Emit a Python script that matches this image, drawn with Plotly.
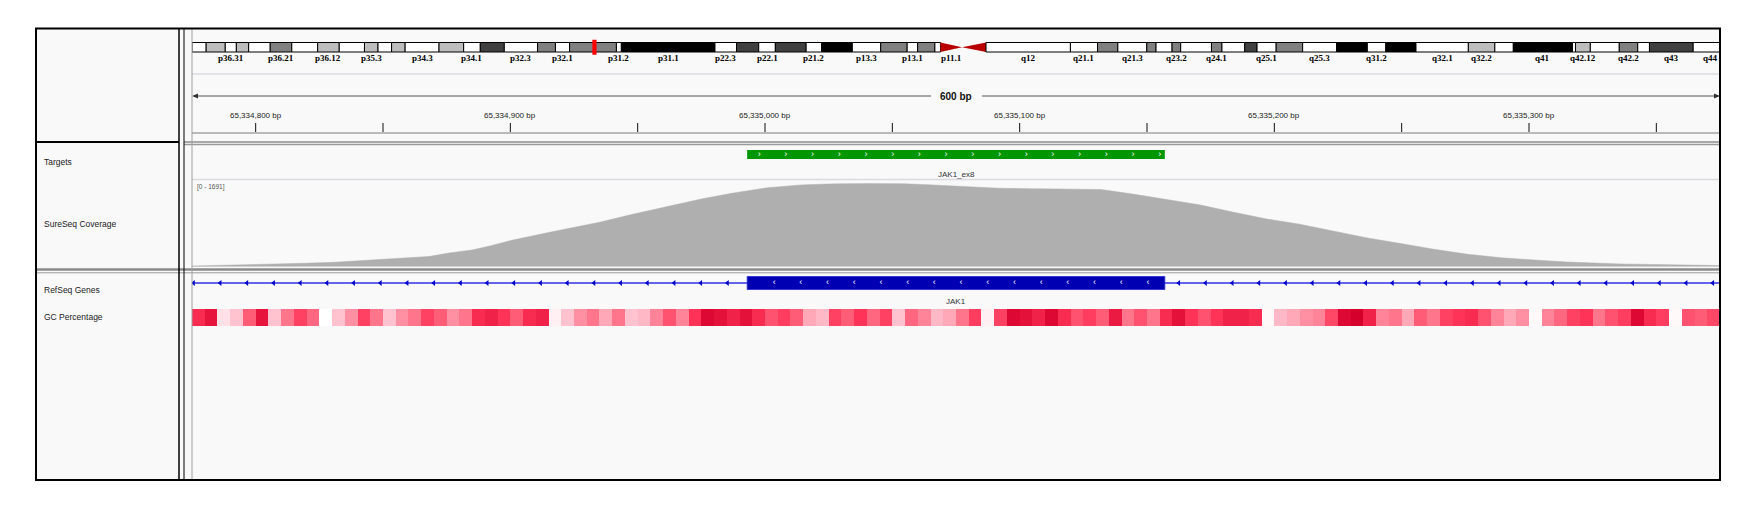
import numpy as np
import plotly.graph_objects as go

# ---------------- data ----------------
CHROM_LEN_MB = 249.25
VIEW_START = 65334775
VIEW_END = 65335375
VIEW_LABEL = "600 bp"

RULER_TICKS = [65334800, 65334850, 65334900, 65334950, 65335000, 65335050,
               65335100, 65335150, 65335200, 65335250, 65335300, 65335350]
RULER_LABELED = [65334800, 65334900, 65335000, 65335100, 65335200, 65335300]
RULER_LABELS = ["65,334,800 bp", "65,334,900 bp", "65,335,000 bp",
                "65,335,100 bp", "65,335,200 bp", "65,335,300 bp"]

BAND_NAMES = ["p36.33", "p36.32", "p36.31", "p36.23", "p36.22", "p36.21", "p36.13", "p36.12",
              "p36.11", "p35.3", "p35.2", "p35.1", "p34.3", "p34.2", "p34.1", "p33", "p32.3",
              "p32.2", "p32.1", "p31.3", "p31.2", "p31.1", "p22.3", "p22.2", "p22.1", "p21.3",
              "p21.2", "p21.1", "p13.3", "p13.2", "p13.1", "p12", "p11.2", "p11.1", "q11", "q12",
              "q21.1", "q21.2", "q21.3", "q22", "q23.1", "q23.2", "q23.3", "q24.1", "q24.2",
              "q24.3", "q25.1", "q25.2", "q25.3", "q31.1", "q31.2", "q31.3", "q32.1", "q32.2",
              "q32.3", "q41", "q42.11", "q42.12", "q42.13", "q42.2", "q42.3", "q43", "q44"]
BAND_START = [0.0, 2.3, 5.4, 7.2, 9.2, 12.7, 16.2, 20.4, 23.9, 28.0, 30.2, 32.4, 34.6, 40.1,
              44.1, 46.8, 50.7, 56.1, 59.0, 61.3, 68.9, 69.7, 84.9, 88.4, 92.0, 94.7, 99.7,
              102.2, 107.2, 111.8, 116.1, 117.8, 120.6, 121.5, 125.0, 128.9, 142.6, 147.0,
              150.3, 155.0, 156.5, 159.1, 160.5, 165.5, 167.2, 170.9, 172.9, 176.0, 180.3,
              185.8, 190.8, 193.8, 198.7, 207.2, 211.5, 214.5, 224.1, 224.6, 227.0, 231.7,
              234.7, 236.6, 243.7]
BAND_END = BAND_START[1:] + [CHROM_LEN_MB]
BAND_STAIN = ["gneg", "gpos25", "gneg", "gpos25", "gneg", "gpos50", "gneg", "gpos25", "gneg",
              "gpos25", "gneg", "gpos25", "gneg", "gpos25", "gneg", "gpos75", "gneg", "gpos50",
              "gneg", "gpos50", "gneg", "gpos100", "gneg", "gpos75", "gneg", "gpos75", "gneg",
              "gpos100", "gneg", "gpos50", "gneg", "gpos50", "gneg", "acen", "acen", "gvar",
              "gneg", "gpos50", "gneg", "gpos50", "gneg", "gpos50", "gneg", "gpos50", "gneg",
              "gpos75", "gneg", "gpos50", "gneg", "gpos100", "gneg", "gpos100", "gneg",
              "gpos25", "gneg", "gpos100", "gneg", "gpos25", "gneg", "gpos50", "gneg",
              "gpos75", "gneg"]
LABELED_BANDS = ["p36.31", "p36.21", "p36.12", "p35.3", "p34.3", "p34.1", "p32.3", "p32.1",
                 "p31.2", "p31.1", "p22.3", "p22.1", "p21.2", "p13.3", "p13.1", "p11.1", "q12",
                 "q21.1", "q21.3", "q23.2", "q24.1", "q25.1", "q25.3", "q31.2", "q32.1",
                 "q32.2", "q41", "q42.12", "q42.2", "q43", "q44"]

TRACK_NAMES = ["Targets", "SureSeq Coverage", "RefSeq Genes", "GC Percentage"]

TARGET_NAME = "JAK1_ex8"
TARGET_START = 65334993
TARGET_END = 65335157

GENE_NAME = "JAK1"
EXON_START = 65334993
EXON_END = 65335157

COV_MAX = 1691
COV_POS = [65334775, 65334792, 65334809, 65334819, 65334831, 65334839, 65334855, 65334868,
           65334876, 65334885, 65334892, 65334901, 65334916, 65334935, 65334948, 65334962,
           65334975, 65334987, 65335001, 65335014, 65335027, 65335040, 65335053, 65335066,
           65335079, 65335092, 65335105, 65335119, 65335132, 65335145, 65335158, 65335171,
           65335184, 65335197, 65335210, 65335223, 65335236, 65335249, 65335262, 65335276,
           65335289, 65335302, 65335315, 65335336, 65335355, 65335375]
COV_VAL = [14, 30, 55, 69, 89, 116, 156, 207, 278, 339, 420, 541, 704, 900, 1062, 1217,
           1373, 1488, 1602, 1657, 1683, 1691, 1689, 1657, 1622, 1590, 1582, 1575, 1565,
           1468, 1352, 1251, 1103, 967, 860, 724, 588, 474, 359, 251, 182, 136, 95, 55, 34, 24]

GC_BIN = 5
GC_PCT = [70, 75, 30, 40, 60, 75, 40, 55, 65, 58,
          20, 40, 50, 65, 55, 40, 50, 55, 65, 60,
          50, 55, 70, 72, 68, 60, 70, 72, 25, 40,
          50, 55, 45, 55, 40, 42, 52, 62, 52, 68,
          78, 76, 72, 76, 70, 62, 66, 60, 45, 42,
          65, 60, 68, 58, 65, 40, 58, 52, 42, 45,
          55, 66, 25, 65, 78, 76, 72, 78, 70, 62,
          66, 60, 74, 55, 62, 55, 70, 76, 68, 62,
          68, 72, 72, 70, 22, 42, 45, 50, 52, 64,
          78, 80, 72, 52, 55, 45, 60, 55, 65, 68,
          70, 62, 52, 45, 50, 22, 52, 58, 65, 68,
          55, 62, 66, 78, 70, 66, 22, 62, 60, 64]

# ---------------- layout constants (pixels of the browser window) ----------------
WIN_W, WIN_H = 1755, 516
PAGE_MARGIN = 8                      # default body margin of the html page
W, H = WIN_W - PAGE_MARGIN, WIN_H - PAGE_MARGIN
DX0, DX1 = 192, 1720
IDEO_PX_PER_MB = 6.16
STAIN_COLORS = {"gneg": "#ffffff", "gpos25": "#bdbdbd", "gpos50": "#808080",
                "gpos75": "#404040", "gpos100": "#000000", "gvar": "#ffffff"}
ACEN_COLOR = "#b80000"
SANS = "Liberation Sans, Arial, sans-serif"


def fx(p):
    return (p - PAGE_MARGIN) / W


def fy(p):
    return 1 - (p - PAGE_MARGIN) / H


shapes = []
annotations = []


def line_px(x0, y0, x1, y1, color, width):
    shapes.append(dict(type="line", xref="paper", yref="paper", x0=fx(x0), y0=fy(y0),
                       x1=fx(x1), y1=fy(y1), line=dict(color=color, width=width)))


# background
shapes.append(dict(type="rect", xref="paper", yref="paper", x0=fx(36), x1=fx(1720),
                   y0=fy(480), y1=fy(28), fillcolor="#f9f9f9", line=dict(width=0),
                   layer="below"))

# ---------------- ideogram ----------------
IDEO_TOP, IDEO_BOT = 42.5, 52.0
for name, s, e, st in zip(BAND_NAMES, BAND_START, BAND_END, BAND_STAIN):
    if st == "acen":
        yt, yb, ym = fy(IDEO_TOP), fy(IDEO_BOT), fy((IDEO_TOP + IDEO_BOT) / 2)
        if name.startswith("p"):
            path = f"M {s},{yt} L {s},{yb} L {e},{ym} Z"
        else:
            path = f"M {e},{yt} L {e},{yb} L {s},{ym} Z"
        shapes.append(dict(type="path", xref="x2", yref="paper", path=path,
                           fillcolor=ACEN_COLOR, line=dict(width=0)))
    else:
        shapes.append(dict(type="rect", xref="x2", yref="paper", x0=s, x1=e,
                           y0=fy(IDEO_BOT), y1=fy(IDEO_TOP), fillcolor=STAIN_COLORS[st],
                           line=dict(color="#000000", width=1)))
    if name in LABELED_BANDS:
        annotations.append(dict(xref="x2", yref="paper", x=(s + e) / 2, y=fy(57.5),
                                text=f"<b>{name}</b>", showarrow=False,
                                font=dict(family="Liberation Serif, serif", size=9,
                                          color="#000000"),
                                xanchor="center", yanchor="middle"))

# current view marker on ideogram
view_mb = (VIEW_START + VIEW_END) / 2 / 1e6
shapes.append(dict(type="rect", xref="x2", yref="paper", x0=view_mb - 0.22, x1=view_mb + 0.22,
                   y0=fy(54), y1=fy(40.5), fillcolor="#ff0000",
                   line=dict(color="#ff0000", width=1.5)))

line_px(DX0, 74, DX1, 74, "#dadae0", 1.5)

# ---------------- ruler ----------------
px_per_bp = (DX1 - DX0) / (VIEW_END - VIEW_START)
cx = DX0 + ((VIEW_START + VIEW_END) / 2 - VIEW_START) * px_per_bp
RULER_Y = 96
line_px(DX0 + 2, RULER_Y, cx - 25, RULER_Y, "#555555", 1)
line_px(cx + 26, RULER_Y, DX1 - 2, RULER_Y, "#555555", 1)
for tip, back in ((DX0, DX0 + 6), (DX1, DX1 - 6)):
    shapes.append(dict(type="path", xref="paper", yref="paper",
                       path=f"M {fx(tip)},{fy(RULER_Y)} L {fx(back)},{fy(RULER_Y - 2.6)} "
                            f"L {fx(back)},{fy(RULER_Y + 2.6)} Z",
                       fillcolor="#333333", line=dict(width=0)))
annotations.append(dict(xref="paper", yref="paper", x=fx(cx), y=fy(RULER_Y),
                        text=f"<b>{VIEW_LABEL}</b>", showarrow=False,
                        font=dict(family=SANS, size=10, color="#111111"),
                        xanchor="center", yanchor="middle"))
for t in RULER_TICKS:
    shapes.append(dict(type="line", xref="x", yref="paper", x0=t, x1=t, y0=fy(132),
                       y1=fy(123), line=dict(color="#111111", width=1)))
for t, lab in zip(RULER_LABELED, RULER_LABELS):
    annotations.append(dict(xref="x", yref="paper", x=t, y=fy(115.5), text=lab,
                            showarrow=False, font=dict(family=SANS, size=8, color="#222222"),
                            xanchor="center", yanchor="middle"))
line_px(DX0, 133, DX1, 133, "#7a7a7a", 1)

# panel separators
line_px(36, 142, 179, 142, "#000000", 2)
line_px(184, 142, DX1, 142, "#8c8c8c", 1.3)
line_px(184, 144.5, DX1, 144.5, "#9a9a9a", 1.3)
line_px(DX0, 179.5, DX1, 179.5, "#dadae0", 1.5)
line_px(36, 269.5, DX1, 269.5, "#8a8a8a", 2.5)
line_px(36, 272.8, DX1, 272.8, "#9a9a9a", 1)

# ---------------- targets ----------------
shapes.append(dict(type="rect", xref="x", yref="paper", x0=TARGET_START, x1=TARGET_END,
                   y0=fy(159), y1=fy(150), fillcolor="#009600", line=dict(width=0),
                   layer="below"))
annotations.append(dict(xref="x", yref="paper", x=(TARGET_START + TARGET_END) / 2, y=fy(174),
                        text=TARGET_NAME, showarrow=False,
                        font=dict(family=SANS, size=8, color="#333333"),
                        xanchor="center", yanchor="middle"))

# ---------------- genes ----------------
shapes.append(dict(type="line", xref="x", yref="paper", x0=VIEW_START, x1=VIEW_END,
                   y0=fy(283), y1=fy(283), line=dict(color="#3030e8", width=1.6),
                   layer="below"))
shapes.append(dict(type="rect", xref="x", yref="paper", x0=EXON_START, x1=EXON_END,
                   y0=fy(289.5), y1=fy(276.5), fillcolor="#0000b2",
                   line=dict(color="#2a2ad0", width=0.8), layer="below"))
annotations.append(dict(xref="x", yref="paper", x=(EXON_START + EXON_END) / 2, y=fy(301),
                        text=GENE_NAME, showarrow=False,
                        font=dict(family=SANS, size=8, color="#333333"),
                        xanchor="center", yanchor="middle"))

# strand arrows (spacing in pixels converted to bp)
step_bp = 26.7 / px_per_bp
tgt_arrows = np.arange(TARGET_START + 12 / px_per_bp, TARGET_END - 2 / px_per_bp, step_bp)
exon_arrows = np.arange(EXON_START + 27 / px_per_bp, EXON_END - 8 / px_per_bp, step_bp)
intron_arrows = np.concatenate([
    np.arange(VIEW_START + 1.5 / px_per_bp, EXON_START - 10 / px_per_bp, step_bp),
    np.arange(EXON_END + 14 / px_per_bp, VIEW_END, step_bp)])

# ---------------- labels in name panel ----------------
for name, yy in zip(TRACK_NAMES, [162, 224, 290, 317]):
    annotations.append(dict(xref="paper", yref="paper", x=fx(42), y=fy(yy), text=name,
                            showarrow=False, font=dict(family=SANS, size=8.5, color="#1a1a1a"),
                            xanchor="left", yanchor="middle"))
annotations.append(dict(xref="paper", yref="paper", x=fx(195), y=fy(186.5),
                        text=f"[0 - {COV_MAX}]", showarrow=False,
                        font=dict(family=SANS, size=6.5, color="#555555"),
                        xanchor="left", yanchor="middle"))

# ---------------- frame lines ----------------
line_px(179, 28, 179, 480, "#000000", 1.5)
line_px(184, 28, 184, 480, "#000000", 1)
line_px(DX0, 28, DX0, 480, "#a0a0a0", 1)
shapes.append(dict(type="rect", xref="paper", yref="paper", x0=fx(36), x1=fx(1720),
                   y0=fy(480), y1=fy(28.5), line=dict(color="#000000", width=2)))

# ---------------- traces ----------------
fig = go.Figure()

fig.add_trace(go.Scatter(x=COV_POS, y=COV_VAL, mode="lines", fill="tozeroy",
                         fillcolor="#afafaf", line=dict(color="#afafaf", width=0.5),
                         xaxis="x", yaxis="y2", hoverinfo="skip"))

gc_edges = VIEW_START + GC_BIN * np.arange(len(GC_PCT) + 1)
fig.add_trace(go.Heatmap(x=gc_edges, y=[0], z=[GC_PCT], zmin=20, zmax=80,
                         colorscale=[[0, "#ffffff"], [0.33, "#ffc3cf"], [0.6, "#ff7088"],
                                     [0.8, "#ff3358"], [1, "#d6002c"]],
                         showscale=False, xaxis="x", yaxis="y3", hoverinfo="skip"))

fig.add_trace(go.Scatter(x=tgt_arrows, y=[154.5] * len(tgt_arrows), mode="text",
                         text=["\u203a"] * len(tgt_arrows),
                         textfont=dict(family=SANS, size=9, color="#ffffff"),
                         xaxis="x", yaxis="y", hoverinfo="skip"))
fig.add_trace(go.Scatter(x=exon_arrows, y=[283] * len(exon_arrows), mode="text",
                         text=["\u2039"] * len(exon_arrows),
                         textfont=dict(family=SANS, size=9, color="#ffffff"),
                         xaxis="x", yaxis="y", hoverinfo="skip"))
fig.add_trace(go.Scatter(x=intron_arrows, y=[283] * len(intron_arrows), mode="markers",
                         marker=dict(symbol="triangle-left", size=5, color="#0000c8",
                                     line=dict(width=0)),
                         xaxis="x", yaxis="y", hoverinfo="skip"))
# anchor trace for the ideogram axis
fig.add_trace(go.Scatter(x=[1], y=[-50], mode="markers", marker=dict(opacity=0),
                         xaxis="x2", yaxis="y", hoverinfo="skip"))

dom_x = [fx(DX0), fx(DX1)]
fig.update_layout(
    width=W, height=H, margin=dict(l=0, r=0, t=0, b=0),
    paper_bgcolor="#ffffff", plot_bgcolor="rgba(0,0,0,0)", showlegend=False,
    xaxis=dict(domain=dom_x, range=[VIEW_START, VIEW_END], visible=False, fixedrange=True,
               anchor="y"),
    xaxis2=dict(domain=dom_x, range=[0, (DX1 - DX0) / IDEO_PX_PER_MB], visible=False,
                fixedrange=True, anchor="y"),
    yaxis=dict(domain=[0, 1], range=[fy(WIN_H) * 0 + WIN_H, PAGE_MARGIN], visible=False,
               fixedrange=True, anchor="x"),
    yaxis2=dict(domain=[fy(266.7), fy(183.3)], range=[0, COV_MAX], visible=False,
                fixedrange=True, anchor="x"),
    yaxis3=dict(domain=[fy(326), fy(309)], range=[-0.5, 0.5], visible=False,
                fixedrange=True, anchor="x"),
    shapes=shapes, annotations=annotations,
)

fig.write_html("out.html")
